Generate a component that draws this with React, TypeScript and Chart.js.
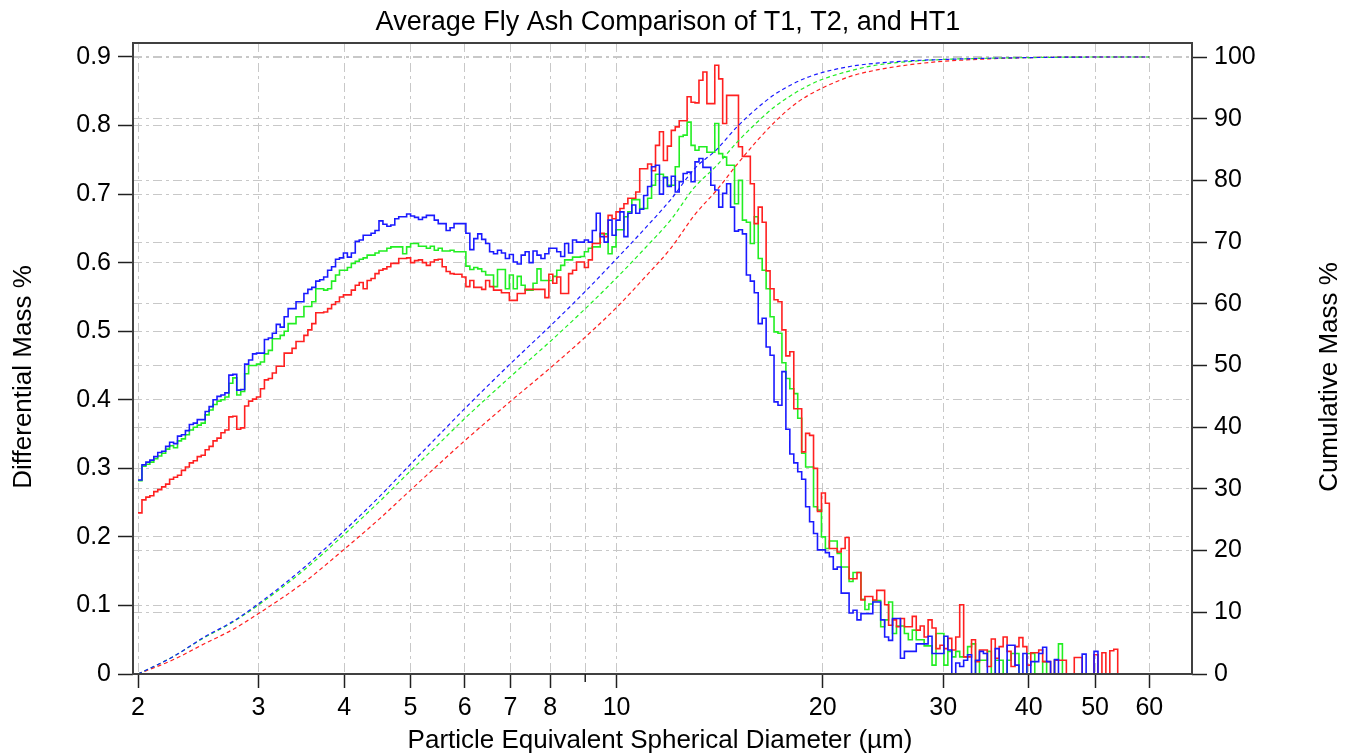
import React, { useEffect, useRef } from 'react';
import { Chart, registerables } from 'chart.js';

Chart.register(...registerables);

// ---------- channel definition (log-spaced bins, 2–60 µm) ----------
const BIN_COUNT = 256;
const D_MIN = 2;
const D_MAX = 60;

// ---------- axis ticks ----------
const X_TICKS = [2, 3, 4, 5, 6, 7, 8, 9, 10, 20, 30, 40, 50, 60];
const X_TICK_LABELS = ['2', '3', '4', '5', '6', '7', '8', '', '10', '20', '30', '40', '50', '60'];
const Y_LEFT_TICKS = [0, 0.1, 0.2, 0.3, 0.4, 0.5, 0.6, 0.7, 0.8, 0.9];
const Y_LEFT_LABELS = ['0', '0.1', '0.2', '0.3', '0.4', '0.5', '0.6', '0.7', '0.8', '0.9'];
const Y_RIGHT_TICKS = [0, 10, 20, 30, 40, 50, 60, 70, 80, 90, 100];

const TITLE = 'Average Fly Ash Comparison of T1, T2, and HT1';
const X_TITLE = 'Particle Equivalent Spherical Diameter (\u00b5m)';
const Y_TITLE = 'Differential Mass %';
const Y2_TITLE = 'Cumulative Mass %';

// ---------- differential mass % per channel ----------
const T1_DIFF = [
  0.283, 0.305, 0.309, 0.312, 0.317, 0.323, 0.325, 0.332, 0.338, 0.336,
  0.347, 0.349, 0.355, 0.364, 0.366, 0.371, 0.371, 0.383, 0.390, 0.400,
  0.405, 0.407, 0.410, 0.436, 0.437, 0.414, 0.415, 0.452, 0.458, 0.467,
  0.468, 0.468, 0.488, 0.490, 0.497, 0.510, 0.506, 0.521, 0.533, 0.533,
  0.543, 0.543, 0.555, 0.561, 0.564, 0.573, 0.575, 0.579, 0.589, 0.594,
  0.605, 0.607, 0.614, 0.608, 0.614, 0.631, 0.633, 0.640, 0.640, 0.643,
  0.647, 0.661, 0.656, 0.653, 0.655, 0.664, 0.667, 0.667, 0.671, 0.668,
  0.666, 0.663, 0.666, 0.669, 0.669, 0.662, 0.657, 0.657, 0.647, 0.651,
  0.657, 0.657, 0.657, 0.643, 0.619, 0.635, 0.642, 0.634, 0.628, 0.616,
  0.613, 0.618, 0.614, 0.606, 0.612, 0.601, 0.598, 0.611, 0.616, 0.600,
  0.617, 0.611, 0.606, 0.613, 0.621, 0.621, 0.616, 0.609, 0.628, 0.614,
  0.633, 0.630, 0.630, 0.633, 0.630, 0.647, 0.672, 0.638, 0.630, 0.662,
  0.640, 0.662, 0.674, 0.638, 0.672, 0.684, 0.672, 0.678, 0.698, 0.711,
  0.740, 0.742, 0.700, 0.724, 0.711, 0.726, 0.703, 0.718, 0.730, 0.732,
  0.718, 0.747, 0.752, 0.739, 0.739, 0.713, 0.706, 0.681, 0.701, 0.715,
  0.681, 0.646, 0.648, 0.642, 0.582, 0.573, 0.556, 0.511, 0.519, 0.477,
  0.465, 0.397, 0.392, 0.441, 0.357, 0.321, 0.308, 0.295, 0.284, 0.244,
  0.222, 0.205, 0.181, 0.181, 0.177, 0.171, 0.153, 0.156, 0.118, 0.118,
  0.089, 0.093, 0.079, 0.088, 0.088, 0.088, 0.105, 0.105, 0.079, 0.054,
  0.049, 0.081, 0.081, 0.023, 0.033, 0.033, 0.033, 0.044, 0.044, 0.044,
  0.055, 0.030, 0.030, 0.030, 0.055, 0.035, 0, 0.016, 0.011, 0.020,
  0.028, 0, 0.020, 0.033, 0.030, 0, 0, 0.037, 0, 0,
  0.042, 0.042, 0.013, 0, 0.030, 0, 0.018, 0.018, 0.030, 0.039,
  0.018, 0, 0.021, 0, 0, 0, 0, 0, 0, 0.029,
  0, 0, 0.033, 0,
];

const T2_DIFF = [
  0.282, 0.303, 0.306, 0.309, 0.314, 0.318, 0.322, 0.328, 0.333, 0.330,
  0.340, 0.343, 0.349, 0.356, 0.360, 0.363, 0.366, 0.378, 0.385, 0.393,
  0.398, 0.400, 0.404, 0.424, 0.432, 0.407, 0.412, 0.438, 0.450, 0.450,
  0.452, 0.455, 0.467, 0.472, 0.489, 0.489, 0.494, 0.500, 0.511, 0.511,
  0.521, 0.521, 0.536, 0.536, 0.543, 0.562, 0.562, 0.560, 0.562, 0.573,
  0.582, 0.589, 0.589, 0.593, 0.599, 0.602, 0.605, 0.607, 0.611, 0.611,
  0.614, 0.617, 0.617, 0.621, 0.623, 0.623, 0.623, 0.613, 0.623, 0.628,
  0.628, 0.624, 0.624, 0.621, 0.624, 0.618, 0.621, 0.617, 0.617, 0.618,
  0.616, 0.616, 0.616, 0.595, 0.590, 0.593, 0.591, 0.587, 0.582, 0.582,
  0.565, 0.590, 0.590, 0.562, 0.582, 0.562, 0.580, 0.567, 0.560, 0.560,
  0.570, 0.591, 0.574, 0.574, 0.574, 0.580, 0.589, 0.596, 0.604, 0.604,
  0.608, 0.608, 0.609, 0.616, 0.621, 0.623, 0.623, 0.642, 0.642, 0.613,
  0.623, 0.648, 0.648, 0.667, 0.674, 0.692, 0.692, 0.679, 0.679, 0.694,
  0.713, 0.729, 0.729, 0.725, 0.713, 0.713, 0.740, 0.784, 0.786, 0.805,
  0.771, 0.764, 0.769, 0.769, 0.761, 0.761, 0.803, 0.759, 0.754, 0.742,
  0.742, 0.686, 0.720, 0.662, 0.659, 0.628, 0.667, 0.606, 0.589, 0.562,
  0.521, 0.499, 0.497, 0.454, 0.431, 0.416, 0.409, 0.373, 0.322, 0.302,
  0.302, 0.244, 0.239, 0.200, 0.183, 0.194, 0.194, 0.176, 0.156, 0.156,
  0.135, 0.148, 0.148, 0.109, 0.094, 0.102, 0.107, 0.107, 0.069, 0.079,
  0.105, 0.059, 0.070, 0.070, 0.059, 0.050, 0.064, 0.050, 0.050, 0.041,
  0.041, 0.013, 0.059, 0.059, 0.013, 0.033, 0.025, 0.033, 0.025, 0.025,
  0.040, 0.044, 0, 0.020, 0.020, 0.033, 0, 0.020, 0.020, 0,
  0.020, 0.030, 0.030, 0, 0, 0.030, 0.030, 0, 0, 0.018,
  0, 0, 0.020, 0.044, 0,
];

const HT1_DIFF = [
  0.235, 0.254, 0.258, 0.260, 0.266, 0.269, 0.273, 0.277, 0.284, 0.287,
  0.290, 0.297, 0.302, 0.308, 0.311, 0.317, 0.319, 0.327, 0.332, 0.340,
  0.344, 0.352, 0.356, 0.375, 0.376, 0.357, 0.359, 0.391, 0.398, 0.401,
  0.404, 0.416, 0.429, 0.431, 0.439, 0.449, 0.449, 0.468, 0.468, 0.475,
  0.485, 0.485, 0.494, 0.502, 0.511, 0.527, 0.527, 0.528, 0.533, 0.539,
  0.543, 0.550, 0.553, 0.553, 0.560, 0.567, 0.571, 0.562, 0.574, 0.577,
  0.584, 0.589, 0.591, 0.594, 0.599, 0.599, 0.606, 0.606, 0.607, 0.600,
  0.603, 0.604, 0.600, 0.596, 0.601, 0.604, 0.605, 0.594, 0.587, 0.584,
  0.583, 0.583, 0.579, 0.565, 0.574, 0.564, 0.564, 0.561, 0.574, 0.565,
  0.560, 0.560, 0.556, 0.556, 0.545, 0.545, 0.555, 0.555, 0.561, 0.561,
  0.561, 0.561, 0.561, 0.549, 0.583, 0.570, 0.579, 0.555, 0.555, 0.584,
  0.589, 0.601, 0.601, 0.593, 0.604, 0.628, 0.628, 0.643, 0.638, 0.669,
  0.664, 0.674, 0.679, 0.686, 0.694, 0.694, 0.703, 0.737, 0.737, 0.744,
  0.734, 0.771, 0.791, 0.749, 0.770, 0.793, 0.798, 0.807, 0.807, 0.842,
  0.834, 0.833, 0.866, 0.878, 0.832, 0.832, 0.888, 0.868, 0.803, 0.844,
  0.844, 0.844, 0.769, 0.755, 0.755, 0.715, 0.657, 0.681, 0.659, 0.588,
  0.562, 0.546, 0.543, 0.502, 0.464, 0.470, 0.387, 0.387, 0.324, 0.351,
  0.348, 0.300, 0.237, 0.264, 0.249, 0.183, 0.183, 0.178, 0.183, 0.199,
  0.139, 0.139, 0.148, 0.108, 0.113, 0.113, 0.108, 0.122, 0.122, 0.101,
  0.071, 0.079, 0.069, 0.081, 0.069, 0.069, 0.084, 0.064, 0.070, 0.054,
  0.079, 0.067, 0.037, 0.042, 0.037, 0.052, 0.035, 0.054, 0.101, 0.025,
  0.025, 0.050, 0.018, 0.035, 0.035, 0.011, 0.051, 0.023, 0.040, 0.054,
  0.033, 0.011, 0.040, 0.053, 0.040, 0.013, 0.031, 0.031, 0.035, 0.018,
  0.018, 0, 0.020, 0.020, 0.020, 0, 0, 0.024, 0.024, 0,
  0, 0, 0.028, 0, 0.031, 0, 0.034, 0.036, 0,
];

// ---------- cumulative mass % (read at these diameters) ----------
const CUM_X = [2, 2.25, 2.5, 2.75, 3, 3.5, 4, 4.5, 5, 5.5, 6, 7, 8, 9, 10, 11, 12, 13, 14, 15, 16, 17, 18, 19, 20, 22, 24, 27, 30, 35, 40, 50, 60];
const T1_CUM = [0, 2.8, 6.0, 8.5, 11.4, 17.3, 23.2, 28.7, 34.0, 38.7, 43.0, 50.3, 56.4, 62.0, 67.3, 72.2, 76.9, 81.9, 85.0, 88.7, 91.6, 93.9, 95.5, 96.7, 97.5, 98.5, 99.0, 99.4, 99.6, 99.8, 99.9, 100, 100];
const T2_CUM = [0, 2.8, 5.9, 8.4, 11.2, 16.9, 22.6, 27.9, 32.9, 37.3, 41.4, 48.2, 53.9, 59.2, 64.2, 69.0, 73.6, 78.9, 82.4, 86.2, 89.3, 91.9, 93.8, 95.3, 96.4, 97.8, 98.7, 99.3, 99.6, 99.8, 99.9, 100, 100];
const HT1_CUM = [0, 2.3, 4.9, 7.2, 9.8, 14.9, 20.2, 25.1, 29.8, 34.0, 37.8, 44.2, 49.6, 54.6, 59.4, 64.3, 69.0, 74.4, 78.4, 82.6, 86.3, 89.4, 91.9, 93.7, 95.0, 96.9, 97.9, 98.8, 99.3, 99.7, 99.9, 100, 100];

const BLUE = '#1a1aff';
const GREEN = '#22ee22';
const RED = '#ff2020';
const FONT = '"Liberation Sans", Arial, Helvetica, sans-serif';
const GRID = '#c8c8c8';
const GRID_DASH = [9, 4, 3, 4];

const EDGES: number[] = [];
for (let i = 0; i <= BIN_COUNT; i++) EDGES.push(D_MIN * Math.pow(D_MAX / D_MIN, i / BIN_COUNT));

function stepPoints(values: number[]) {
  const pts = values.map((v, i) => ({ x: EDGES[i], y: v }));
  pts.push({ x: EDGES[values.length], y: values[values.length - 1] });
  return pts;
}
function cumPoints(values: number[]) {
  return CUM_X.map((x, i) => ({ x, y: values[i] }));
}

const decorPlugin = {
  id: 'decor',
  afterDraw(chart: any) {
    const { ctx, chartArea: a } = chart;
    ctx.save();
    ctx.strokeStyle = '#404040';
    ctx.lineWidth = 2;
    ctx.strokeRect(a.left, a.top, a.right - a.left, a.bottom - a.top);
    // short minor tick at 9
    const x9 = chart.scales.x.getPixelForValue(9);
    ctx.strokeStyle = '#202020';
    ctx.lineWidth = 1.5;
    ctx.beginPath();
    ctx.moveTo(x9, a.bottom);
    ctx.lineTo(x9, a.bottom + 8);
    ctx.stroke();
    // titles
    ctx.fillStyle = '#000';
    ctx.textAlign = 'center';
    ctx.textBaseline = 'alphabetic';
    ctx.font = `27px ${FONT}`;
    ctx.fillText(TITLE, 668, 30);
    ctx.font = `26px ${FONT}`;
    ctx.fillText(X_TITLE, 660, 748);
    ctx.save();
    ctx.translate(31, 377);
    ctx.rotate(-Math.PI / 2);
    ctx.fillText(Y_TITLE, 0, 0);
    ctx.restore();
    ctx.save();
    ctx.translate(1337, 377);
    ctx.rotate(-Math.PI / 2);
    ctx.fillText(Y2_TITLE, 0, 0);
    ctx.restore();
    ctx.restore();
  },
};

const gridOpts = (tickLength: number, tickColor: any) => ({
  color: GRID,
  lineWidth: 1,
  tickLength,
  tickWidth: 1.5,
  tickBorderDash: [],
  tickColor,
});
const borderOpts = { display: false, dash: GRID_DASH };

export default function App() {
  const ref = useRef<HTMLCanvasElement | null>(null);
  useEffect(() => {
    document.body.style.margin = '0';
    const canvas = ref.current;
    if (!canvas) return;
    const stepDs = (label: string, data: number[], color: string) => ({
      label,
      data: stepPoints(data),
      borderColor: color,
      backgroundColor: color,
      borderWidth: 1.6,
      pointRadius: 0,
      stepped: 'before' as const,
      fill: false,
      yAxisID: 'y',
    });
    const cumDs = (label: string, data: number[], color: string) => ({
      label,
      data: cumPoints(data),
      borderColor: color,
      backgroundColor: color,
      borderWidth: 1.2,
      borderDash: [4, 3],
      pointRadius: 0,
      cubicInterpolationMode: 'monotone' as const,
      fill: false,
      yAxisID: 'y2',
    });
    const chart = new Chart(canvas, {
      type: 'line',
      data: {
        datasets: [
          cumDs('T1 cumulative', T1_CUM, BLUE),
          cumDs('T2 cumulative', T2_CUM, GREEN),
          cumDs('HT1 cumulative', HT1_CUM, RED),
          stepDs('T1', T1_DIFF, BLUE),
          stepDs('HT1', HT1_DIFF, RED),
          stepDs('T2', T2_DIFF, GREEN),
        ] as any,
      },
      options: {
        responsive: false,
        animation: false,
        layout: { padding: { top: 43, left: 0, right: 0, bottom: 0 } },
        plugins: { legend: { display: false }, tooltip: { enabled: false }, title: { display: false } },
        scales: {
          x: {
            type: 'logarithmic',
            position: 'bottom',
            min: 1.9666,
            max: 69.26,
            afterBuildTicks: (s: any) => { s.ticks = X_TICKS.map((v) => ({ value: v })); },
            afterFit: (s: any) => { s.height = 82; },
            ticks: {
              autoSkip: false,
              maxRotation: 0,
              padding: 5,
              color: '#000',
              font: { family: FONT, size: 25 },
              callback: (_v: any, i: number) => X_TICK_LABELS[i],
            },
            grid: gridOpts(14, (c: any) => (c.tick && c.tick.value === 9 ? 'rgba(0,0,0,0)' : '#202020')),
            border: borderOpts,
          },
          y: {
            type: 'linear',
            position: 'left',
            min: 0,
            max: 0.9204,
            afterBuildTicks: (s: any) => { s.ticks = Y_LEFT_TICKS.map((v) => ({ value: v })); },
            afterFit: (s: any) => { s.width = 133; },
            ticks: {
              padding: 7,
              color: '#000',
              font: { family: FONT, size: 25 },
              callback: (_v: any, i: number) => Y_LEFT_LABELS[i],
            },
            grid: gridOpts(15, '#202020'),
            border: borderOpts,
          },
          y2: {
            type: 'linear',
            position: 'right',
            min: 0,
            max: 102.27,
            afterBuildTicks: (s: any) => { s.ticks = Y_RIGHT_TICKS.map((v) => ({ value: v })); },
            afterFit: (s: any) => { s.width = 159; },
            ticks: {
              padding: 7,
              color: '#000',
              font: { family: FONT, size: 25 },
              callback: (v: any) => String(v),
            },
            grid: gridOpts(15, '#202020'),
            border: borderOpts,
          },
        },
      } as any,
      plugins: [decorPlugin],
    });
    return () => chart.destroy();
  }, []);
  return <canvas ref={ref} width={1351} height={756} style={{ display: 'block' }} />;
}
